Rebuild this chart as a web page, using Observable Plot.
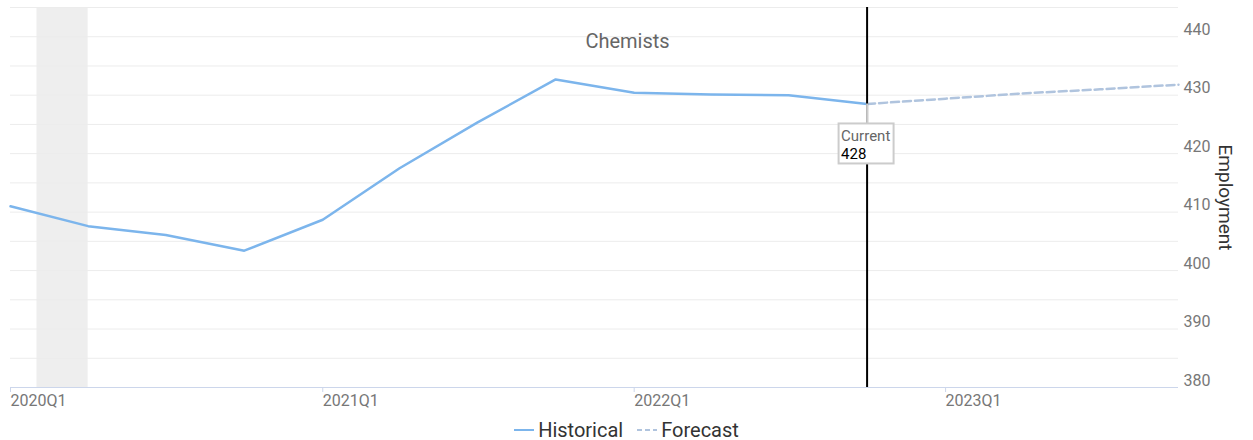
<!DOCTYPE html>
<html>
<head>
<meta charset="utf-8">
<script src="https://cdn.jsdelivr.net/npm/d3@7"></script>
<script src="https://cdn.jsdelivr.net/npm/@observablehq/plot@0.6"></script>
<style>
  body { margin: 0; background: #fff; font-family: Roboto, "Noto Sans", sans-serif; overflow: hidden; }
  #legend { height: 18px; padding-top: 11px; display: flex; justify-content: center; align-items: center; gap: 14px; font-size: 20px; line-height: 18px; color: #333; }
  .item { display: flex; align-items: center; gap: 4px; }
</style>
</head>
<body>
<div id="chart"></div>
<div id="legend"></div>
<script>
// Data
const title = "Chemists";
const yLabel = "Employment";
const histQuarters = ["2020Q1","2020Q2","2020Q3","2020Q4","2021Q1","2021Q2","2021Q3","2021Q4","2022Q1","2022Q2","2022Q3","2022Q4"];
const histValues   = [411.0, 407.6, 406.1, 403.4, 408.7, 417.5, 425.3, 432.7, 430.4, 430.1, 430.0, 428.5];
const fcstQuarters = ["2022Q4","2023Q1","2023Q2","2023Q3","2023Q4"];
const fcstValues   = [428.5, 429.4, 430.3, 431.0, 431.8];
const recession = { start: "2020-02-01", end: "2020-04-01" };
const currentQuarter = "2022Q4";
const currentLabel = "Current";
const currentValue = 428;
const xTickQuarters = ["2020Q1","2021Q1","2022Q1","2023Q1"];
const yTicks = [380, 390, 400, 410, 420, 430, 440];
const yGrid = [380, 385, 390, 395, 400, 405, 410, 415, 420, 425, 430, 435, 440, 445];
const yDomain = [380, 445];

const q2d = q => new Date(Date.UTC(+q.slice(0,4), (+q.slice(5) - 1) * 3, 1));
const fmtQ = d => `${d.getUTCFullYear()}Q${Math.floor(d.getUTCMonth()/3)+1}`;

const hist = histQuarters.map((q,i) => ({date: q2d(q), value: histValues[i]}));
const fcst = fcstQuarters.map((q,i) => ({date: q2d(q), value: fcstValues[i]}));
const curDate = q2d(currentQuarter);
const curPoint = hist.find(d => +d.date === +curDate);

const HIST = "#7cb5ec", FCST = "#b0c4de";

const chart = Plot.plot({
  width: 1253,
  height: 410,
  marginLeft: 10,
  marginRight: 75,
  marginTop: 7,
  marginBottom: 23,
  style: { fontFamily: "Roboto, sans-serif", background: "#fff", overflow: "visible" },
  x: { type: "utc", domain: [q2d(histQuarters[0]), q2d(fcstQuarters[fcstQuarters.length-1])] },
  y: { domain: yDomain },
  marks: [
    Plot.rect([recession], { x1: d => new Date(d.start), x2: d => new Date(d.end), y1: yDomain[0], y2: yDomain[1], fill: "#eeeeee" }),
    Plot.ruleY(yGrid, { stroke: "#ececec", strokeWidth: 1 }),
    Plot.ruleY([yDomain[0]], { stroke: "#ccd6eb", strokeWidth: 1 }),
    Plot.axisX({ ticks: xTickQuarters.map(q2d), tickFormat: fmtQ, textAnchor: "start", tickSize: 5, tickPadding: 2, stroke: "#ccd6eb", fill: "#777", fontSize: 16, label: null }),
    Plot.axisY({ anchor: "right", ticks: yTicks, tickSize: 0, tickPadding: 5, dy: -7, fill: "#777", fontSize: 16, label: null }),
    Plot.text([yLabel], { frameAnchor: "right", textAnchor: "middle", dx: 47, rotate: 90, fontSize: 19, fill: "#333" }),
    Plot.text([title], { frameAnchor: "top", dx: 33, dy: 26, fontSize: 20, fill: "#666" }),
    Plot.line(hist, { x: "date", y: "value", stroke: HIST, strokeWidth: 2.5 }),
    Plot.line(fcst, { x: "date", y: "value", stroke: FCST, strokeWidth: 2.5, strokeDasharray: "8,4" }),
    Plot.ruleX([curDate], { stroke: "black", strokeWidth: 2 }),
    Plot.ruleX([curPoint], { x: "date", y1: "value", y2: "value", insetBottom: -20, stroke: "#cccccc", strokeWidth: 2 }),
    Plot.rect([curPoint], { x1: "date", x2: "date", y1: "value", y2: "value", insetLeft: -28, insetRight: -27, insetTop: 20, insetBottom: -60, fill: "white", stroke: "#cccccc", strokeWidth: 2 }),
    Plot.text([curPoint], { x: "date", y: "value", text: () => currentLabel, textAnchor: "start", dx: -26, dy: 32, fontSize: 15, fill: "#666" }),
    Plot.text([curPoint], { x: "date", y: "value", text: () => String(currentValue), textAnchor: "start", dx: -26, dy: 50, fontSize: 15, fill: "#000" })
  ]
});
document.getElementById("chart").appendChild(chart);

const legend = document.getElementById("legend");
[["Historical", HIST, null], ["Forecast", FCST, "5,3"]].forEach(([name, color, dash]) => {
  const item = document.createElement("div");
  item.className = "item";
  item.innerHTML = `<svg width="20" height="10"><line x1="0" x2="20" y1="5" y2="5" stroke="${color}" stroke-width="2" ${dash ? `stroke-dasharray="${dash}"` : ""}/></svg><span>${name}</span>`;
  legend.appendChild(item);
});
</script>
</body>
</html>
